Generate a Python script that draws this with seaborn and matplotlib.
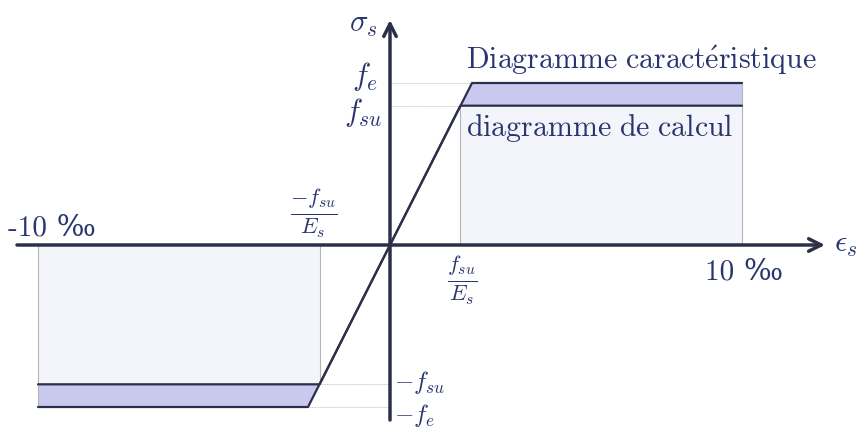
import matplotlib
matplotlib.use("Agg")
import matplotlib.pyplot as plt
import seaborn as sns
import pandas as pd

sns.set_style("white")
plt.rcParams['mathtext.fontset'] = 'cm'
plt.rcParams['font.family'] = ['cmr10', 'DejaVu Serif']

# strain in per mille, stress normalised by fe
eps_car = [-10, -2.33, 0, 2.33, 10]
sig_car = [-1.0, -1.0, 0, 1.0, 1.0]
eps_calc = [-10, -2.0, 0, 2.0, 10]
sig_calc = [-0.86, -0.86, 0, 0.86, 0.86]

navy = '#2b2f48'
txt = '#2a3570'
band = '#c9c9f0'
pale = '#f4f4fb'
guide = '#b5b5b5'

df = pd.concat([
    pd.DataFrame({'eps': eps_car, 'sig': sig_car, 'kind': 'car'}),
    pd.DataFrame({'eps': eps_calc, 'sig': sig_calc, 'kind': 'calc'}),
])

fig = plt.figure(figsize=(8.58, 4.28), dpi=100)
ax = fig.add_axes([0, 0, 1, 1])
ax.set_xlim(-390 / 35.2, 468 / 35.2)
ax.set_ylim(-183 / 162, 245 / 162)
ax.axis('off')

fe, fsu = sig_car[-1], sig_calc[-1]
ee, esu, emax = eps_car[3], eps_calc[3], eps_calc[-1]

# pale zone under design diagram
ax.fill_between([esu, emax], 0, fsu, color=pale, lw=0, zorder=0)
ax.fill_between([-emax, -esu], -fsu, 0, color=pale, lw=0, zorder=0)
# band between the two diagrams
ax.fill_between([esu, ee, emax], [fsu, fsu, fsu], [fsu, fe, fe], color=band, lw=0, zorder=1)
ax.fill_between([-emax, -ee, -esu], [-fe, -fe, -fsu], [-fsu, -fsu, -fsu], color=band, lw=0, zorder=1)

# guide lines
for x in [esu, emax]:
    ax.plot([x, x], [0, fsu], color=guide, lw=0.8, zorder=1)
for x in [-esu, -emax]:
    ax.plot([x, x], [-fsu, 0], color=guide, lw=0.8, zorder=1)
ax.plot([emax, emax], [fsu, fe], color=guide, lw=0.8, zorder=1)
ax.plot([-emax, -emax], [-fe, -fsu], color=guide, lw=0.8, zorder=1)
ax.plot([0, ee], [fe, fe], color=guide, lw=0.6, ls=(0, (1, 1)), zorder=1)
ax.plot([0, esu], [fsu, fsu], color=guide, lw=0.6, ls=(0, (1, 1)), zorder=1)
ax.plot([-ee, 0], [-fe, -fe], color=guide, lw=0.6, ls=(0, (1, 1)), zorder=1)
ax.plot([-esu, 0], [-fsu, -fsu], color=guide, lw=0.6, ls=(0, (1, 1)), zorder=1)

sns.lineplot(data=df, x='eps', y='sig', units='kind', estimator=None, sort=False,
             color=navy, lw=1.6, ax=ax, zorder=3)

# axes with arrows
ax.annotate('', xy=(435 / 35.2, 0), xytext=(-373 / 35.2, 0),
            arrowprops=dict(arrowstyle='->,head_length=0.9,head_width=0.45', lw=2.5, color=navy,
                            shrinkA=0, shrinkB=0), zorder=4)
ax.annotate('', xy=(0, 225 / 162), xytext=(0, -175 / 162),
            arrowprops=dict(arrowstyle='->,head_length=0.9,head_width=0.45', lw=2.5, color=navy,
                            shrinkA=0, shrinkB=0), zorder=4)

fs = 21
ax.text(-0.35, 220 / 162, r'$\sigma_s$', color=txt, fontsize=fs + 1, ha='right', va='center')
ax.text(12.6, 0, r'$\epsilon_s$', color=txt, fontsize=fs + 1, ha='left', va='center')
ax.text(-0.34, fe + 0.04, r'$f_e$', color=txt, fontsize=fs + 1, ha='right', va='center')
ax.text(-0.22, fsu - 0.04, r'$f_{su}$', color=txt, fontsize=fs + 1, ha='right', va='center')
ax.text(0.12, -fsu + 0.01, r'$-f_{su}$', color=txt, fontsize=18, ha='left', va='center')
ax.text(0.12, -fe - 0.05, r'$-f_e$', color=txt, fontsize=18, ha='left', va='center')
ax.text(2.05, -0.05, r'$\frac{f_{su}}{E_s}$', color=txt, fontsize=23, ha='center', va='top')
ax.text(-2.15, 0.03, r'$\frac{-f_{su}}{E_s}$', color=txt, fontsize=23, ha='center', va='bottom')
ax.text(-10.85, 0.1, '-10 ‰', color=txt, fontsize=fs, ha='left', va='center')
ax.text(emax + 0.05, -0.17, '10 ‰', color=txt, fontsize=fs, ha='center', va='center')
ax.text(2.15, fe + 0.14, r'$\mathrm{Diagramme\ caract\acute{e}ristique}$', color=txt,
        fontsize=21.5, ha='left', va='center')
ax.text(2.15, fsu - 0.14, r'$\mathrm{diagramme\ de\ calcul}$', color=txt,
        fontsize=21.5, ha='left', va='center')

fig.savefig('out.png', dpi=100)
